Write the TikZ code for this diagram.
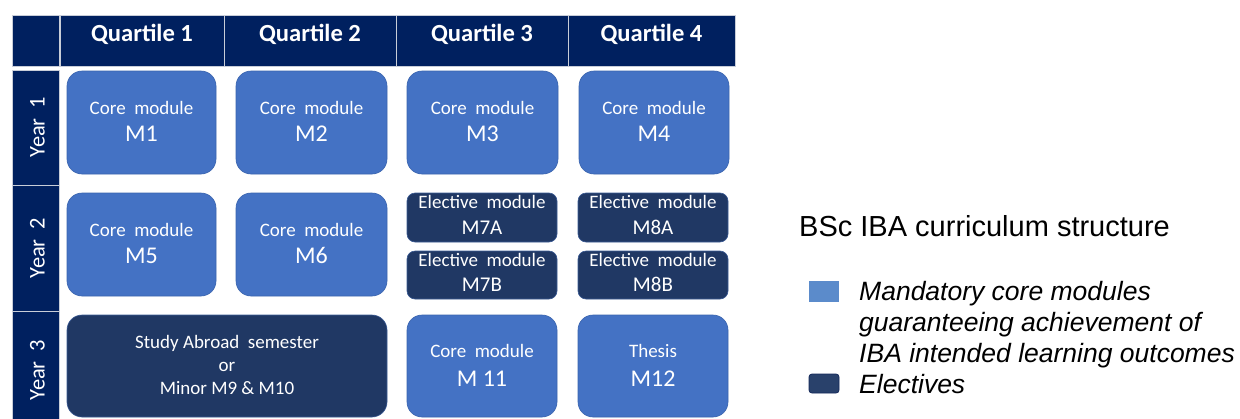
\documentclass[tikz,border=0pt]{standalone}
\usepackage{fontspec}
\setmainfont{Carlito}
\newfontfamily\arialf{Liberation Sans}
\definecolor{navy}{HTML}{00205F}
\definecolor{corefill}{HTML}{4472C4}
\definecolor{coredraw}{HTML}{3A64AE}
\definecolor{elecfill}{HTML}{203864}
\definecolor{elecdraw}{HTML}{3A5A94}
\definecolor{sepline}{HTML}{C8CDD8}
\definecolor{legcore}{HTML}{5B8BCB}
\definecolor{legelec}{HTML}{29416B}
\definecolor{legelecdraw}{HTML}{14285A}
\newcommand\fsz[1]{\fontsize{#1}{#1}\selectfont}
\newcommand\wsp{\hspace{0.45em}}
\begin{document}
\begin{tikzpicture}[x=1pt,y=-1pt,
  hcell/.style={draw=sepline,line width=0.8pt,fill=navy,inner sep=0pt,minimum height=51pt},
  ycell/.style={draw=sepline,line width=0.8pt,fill=navy,inner sep=0pt,minimum width=47pt},
  htext/.style={text=white,font=\fsz{24.6}\bfseries,anchor=base,inner sep=0pt},
  ytext/.style={text=white,font=\fsz{22.5},rotate=90,anchor=base,inner sep=0pt},
  corebox/.style={fill=corefill,draw=coredraw,line width=0.6pt,rounded corners=15pt,inner sep=0pt},
  elecbox/.style={fill=elecfill,draw=elecdraw,line width=0.6pt,rounded corners=8pt,inner sep=0pt},
  small/.style={text=white,font=\fsz{19},anchor=base,inner sep=0pt},
  mid/.style={text=white,font=\fsz{21},anchor=base,inner sep=0pt},
  big/.style={text=white,font=\fsz{24},anchor=base,inner sep=0pt},
  leg/.style={font=\arialf\itshape\fsz{26.5},anchor=base west,inner sep=0pt,text=black}
]
\useasboundingbox (0,0) rectangle (1240,418);
% header
\node[hcell,minimum width=47pt] (h0) at (35.5,40.5) {};
\node[hcell,minimum width=164pt] (h1) at (142,40.5) {};
\node[hcell,minimum width=172pt] (h2) at (310,40.5) {};
\node[hcell,minimum width=172pt] (h3) at (482,40.5) {};
\node[hcell,minimum width=167pt] (h4) at (651.5,40.5) {};
\node[htext] (t1) at (142,41.7) {Quartile 1};
\node[htext] (t2) at (310,41.7) {Quartile 2};
\node[htext] (t3) at (482,41.7) {Quartile 3};
\node[htext] (t4) at (651.5,41.7) {Quartile 4};
% year column
\node[ycell,minimum height=115pt] (y1) at (35.5,127.5) {};
\node[ycell,minimum height=126pt] (y2) at (35.5,248) {};
\node[ycell,minimum height=108pt] (y3) at (35.5,365) {};
\node[ytext] (yt1) at (44.5,127) {Year\wsp 1};
\node[ytext] (yt2) at (44.5,248) {Year\wsp 2};
\node[ytext] (yt3) at (44.5,370) {Year\wsp 3};
% year 1
\node[corebox,minimum width=149pt,minimum height=103pt] (m1) at (141.5,122.5) {};
\node[corebox,minimum width=151pt,minimum height=103pt] (m2) at (311.5,122.5) {};
\node[corebox,minimum width=151pt,minimum height=103pt] (m3) at (482.5,122.5) {};
\node[corebox,minimum width=150pt,minimum height=103pt] (m4) at (654,122.5) {};
\node[small] (m1a) at ([yshift=8.5pt]m1.center) {Core\wsp module};
\node[big] (m1b) at ([yshift=-19.2pt]m1.center) {M1};
\node[small] (m2a) at ([yshift=8.5pt]m2.center) {Core\wsp module};
\node[big] (m2b) at ([yshift=-19.2pt]m2.center) {M2};
\node[small] (m3a) at ([yshift=8.5pt]m3.center) {Core\wsp module};
\node[big] (m3b) at ([yshift=-19.2pt]m3.center) {M3};
\node[small] (m4a) at ([yshift=8.5pt]m4.center) {Core\wsp module};
\node[big] (m4b) at ([yshift=-19.2pt]m4.center) {M4};
% year 2
\node[corebox,minimum width=149pt,minimum height=103pt] (m5) at (141.5,244.5) {};
\node[corebox,minimum width=151pt,minimum height=103pt] (m6) at (311.5,244.5) {};
\node[small] (m5a) at ([yshift=8.5pt]m5.center) {Core\wsp module};
\node[big] (m5b) at ([yshift=-19.2pt]m5.center) {M5};
\node[small] (m6a) at ([yshift=8.5pt]m6.center) {Core\wsp module};
\node[big] (m6b) at ([yshift=-19.2pt]m6.center) {M6};
\node[elecbox,minimum width=150pt,minimum height=49pt] (m7a) at (482,217.5) {};
\node[elecbox,minimum width=150pt,minimum height=48pt] (m7b) at (482,275) {};
\node[elecbox,minimum width=150pt,minimum height=49pt] (m8a) at (653,217.5) {};
\node[elecbox,minimum width=150pt,minimum height=48pt] (m8b) at (653,275) {};
\node[small] (m7aa) at ([yshift=8.7pt]m7a.center) {Elective\wsp module};
\node[mid] (m7ab) at ([yshift=-16.8pt]m7a.center) {M7A};
\node[small] (m7ba) at ([yshift=8.7pt]m7b.center) {Elective\wsp module};
\node[mid] (m7bb) at ([yshift=-16.2pt]m7b.center) {M7B};
\node[small] (m8aa) at ([yshift=8.7pt]m8a.center) {Elective\wsp module};
\node[mid] (m8ab) at ([yshift=-16.8pt]m8a.center) {M8A};
\node[small] (m8ba) at ([yshift=8.7pt]m8b.center) {Elective\wsp module};
\node[mid] (m8bb) at ([yshift=-16.2pt]m8b.center) {M8B};
% year 3
\node[corebox,fill=elecfill,draw=elecdraw,minimum width=320pt,minimum height=102pt] (sa) at (227,366) {};
\node[small] (sa1) at (227,348) {Study Abroad\wsp semester};
\node[small] (sa2) at (227,371.5) {or};
\node[small] (sa3) at (227,394.5) {Minor M9 \& M10};
\node[corebox,minimum width=150pt,minimum height=102pt] (m11) at (482,366) {};
\node[corebox,minimum width=150pt,minimum height=102pt] (m12) at (653,366) {};
\node[small] (m11a) at ([yshift=9pt]m11.center) {Core\wsp module};
\node[big] (m11b) at ([yshift=-20pt]m11.center) {M 11};
\node[small] (m12a) at ([yshift=9pt]m12.center) {Thesis};
\node[big] (m12b) at ([yshift=-20pt]m12.center) {M12};
% legend
\node[font=\arialf\fsz{29},anchor=base west,inner sep=0pt] (title) at (799,236.7) {BSc IBA curriculum structure};
\node[fill=legcore,inner sep=0pt,minimum width=30pt,minimum height=21pt] (lc) at (824,291.5) {};
\node[fill=legelec,draw=legelecdraw,line width=0.8pt,rounded corners=3pt,inner sep=0pt,minimum width=30pt,minimum height=19pt] (le) at (824,383.5) {};
\node[leg] (l1) at (859,300) {Mandatory core modules};
\node[leg] (l2) at (859,331.5) {guaranteeing achievement of};
\node[leg] (l3) at (859,362.7) {IBA intended learning outcomes};
\node[leg] (l4) at (859,393.3) {Electives};
\end{tikzpicture}
\end{document}
